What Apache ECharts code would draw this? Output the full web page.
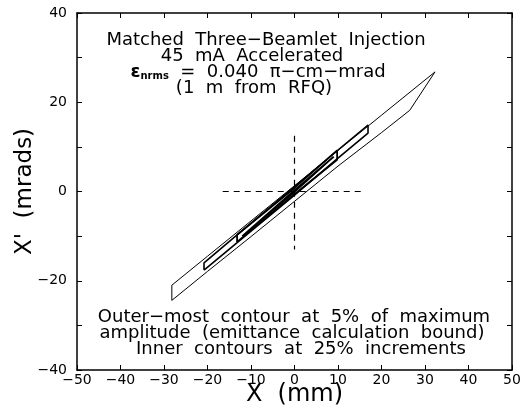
<!DOCTYPE html>
<html>
<head>
<meta charset="utf-8">
<script src="https://cdn.jsdelivr.net/npm/echarts@6/dist/echarts.min.js"></script>
<style>
    html, body { margin: 0; padding: 0; background: #fff; }
    #emittance { width: 521px; height: 413px; }
</style>
</head>
<body>
<div id="emittance"></div>
<script>
// contour outlines, [x mm, x' mrad]
var contour5 = [
    [-28.2, -24.4], [-28.2, -21.0], [-20, -14.5], [-10, -6.6], [0, 1.3],
    [10, 9.2], [20, 17.1], [32.3, 26.8], [26.5, 18.2], [20, 13.2],
    [10, 5.7], [0, -2.2], [-10, -10.1], [-20, -17.9], [-28.2, -24.4]
];
var contour25 = [
    [-20.8, -17.6], [-20.8, -16.0], [-10, -7.1], [0, 1.1], [10, 9.3],
    [16.9, 14.9], [16.9, 13.1], [10, 7.5], [0, -0.8], [-10, -8.9], [-20.8, -17.6]
];
var contour50 = [
    [-13.2, -11.3], [-13.2, -9.7], [0, 0.8], [9.8, 9.2], [9.8, 7.1],
    [0, -0.6], [-13.2, -11.3]
];
var contour75 = [
    [-12, -10.0], [-12, -9.6], [0, 0.3], [9, 7.8], [9, 7.4], [0, -0.1], [-12, -10.0]
];
var crossH = [[-16.5, 0], [15.5, 0]];
var crossV = [[0, 12.5], [0, -13]];

var titleLines = [
    'Matched  Three−Beamlet  Injection',
    '45  mA  Accelerated',
    '{e|ε}{s|nrms}  =  0.040  π−cm−mrad',
    '(1  m  from  RFQ)'
];
var noteLines = [
    'Outer−most  contour  at  5%  of  maximum',
    'amplitude  (emittance  calculation  bound)',
    'Inner  contours  at  25%  increments'
];

var chart = echarts.init(document.getElementById('emittance'));

function minus(v) {
    return String(v).replace('-', '−');
}

function contourSeries(data, width, dashed) {
    return {
        type: 'line',
        data: data,
        symbol: 'none',
        silent: true,
        animation: false,
        lineStyle: {
            color: '#000',
            width: width,
            type: dashed ? [6, 5] : 'solid'
        }
    };
}

var font = '"DejaVu Sans", sans-serif';
var axisBase = {
    type: 'value',
    min: -50,
    max: 50,
    interval: 10,
    nameMoveOverlap: false,
    splitLine: { show: false },
    axisLine: { onZero: false, lineStyle: { color: '#000', width: 1.5 } },
    axisTick: { inside: true, length: 5, lineStyle: { color: '#000' } }
};

var graphics = [];
var titleX = [266, 252, 258, 254];
titleLines.forEach(function (t, i) {
    graphics.push({
        type: 'text',
        x: titleX[i],
        y: 40 + i * 16,
        silent: true,
        style: {
            text: t,
            font: '18px ' + font,
            fill: '#000',
            textAlign: 'center',
            textVerticalAlign: 'middle',
            rich: {
                e: { fontSize: 18, fontWeight: 'bold', fontFamily: font },
                s: { fontSize: 10, fontWeight: 'bold', fontFamily: font, verticalAlign: 'bottom', padding: [8, 0, 0, 0] }
            }
        }
    });
});
var noteX = [294, 292, 301];
noteLines.forEach(function (t, i) {
    graphics.push({
        type: 'text',
        x: noteX[i],
        y: 317 + i * 16,
        silent: true,
        style: {
            text: t,
            font: '18px ' + font,
            fill: '#000',
            textAlign: 'center',
            textVerticalAlign: 'middle'
        }
    });
});

var option = {
    backgroundColor: '#fff',
    animation: false,
    grid: { left: 77, right: 9, top: 13, bottom: 43, containLabel: false, outerBoundsMode: 'none' },
    xAxis: [
        Object.assign({}, axisBase, {
            position: 'bottom',
            name: 'X  (mm)',
            nameLocation: 'middle',
            nameGap: 13,
            nameTextStyle: { fontSize: 24, fontFamily: font, color: '#000' },
            axisLabel: { fontSize: 14, fontFamily: font, color: '#000', margin: 3, formatter: minus }
        }),
        Object.assign({}, axisBase, { position: 'top', axisLabel: { show: false } })
    ],
    yAxis: [
        Object.assign({}, axisBase, {
            min: -40,
            max: 40,
            position: 'left',
            name: "X'  (mrads)",
            nameLocation: 'middle',
            nameGap: 40,
            nameTextStyle: { fontSize: 23, fontFamily: font, color: '#000' },
            axisLabel: {
                fontSize: 14, fontFamily: font, color: '#000', margin: 10,
                formatter: function (v) { return v % 20 === 0 ? minus(v) : ''; }
            }
        }),
        Object.assign({}, axisBase, { min: -40, max: 40, position: 'right', axisLabel: { show: false } })
    ],
    series: [
        contourSeries(contour5, 1),
        contourSeries(contour25, 1.6),
        contourSeries(contour50, 1.8),
        contourSeries(contour75, 1.8),
        contourSeries(crossH, 1.2, true),
        contourSeries(crossV, 1.2, true)
    ],
    graphic: graphics
};

chart.setOption(option);
</script>
</body>
</html>
